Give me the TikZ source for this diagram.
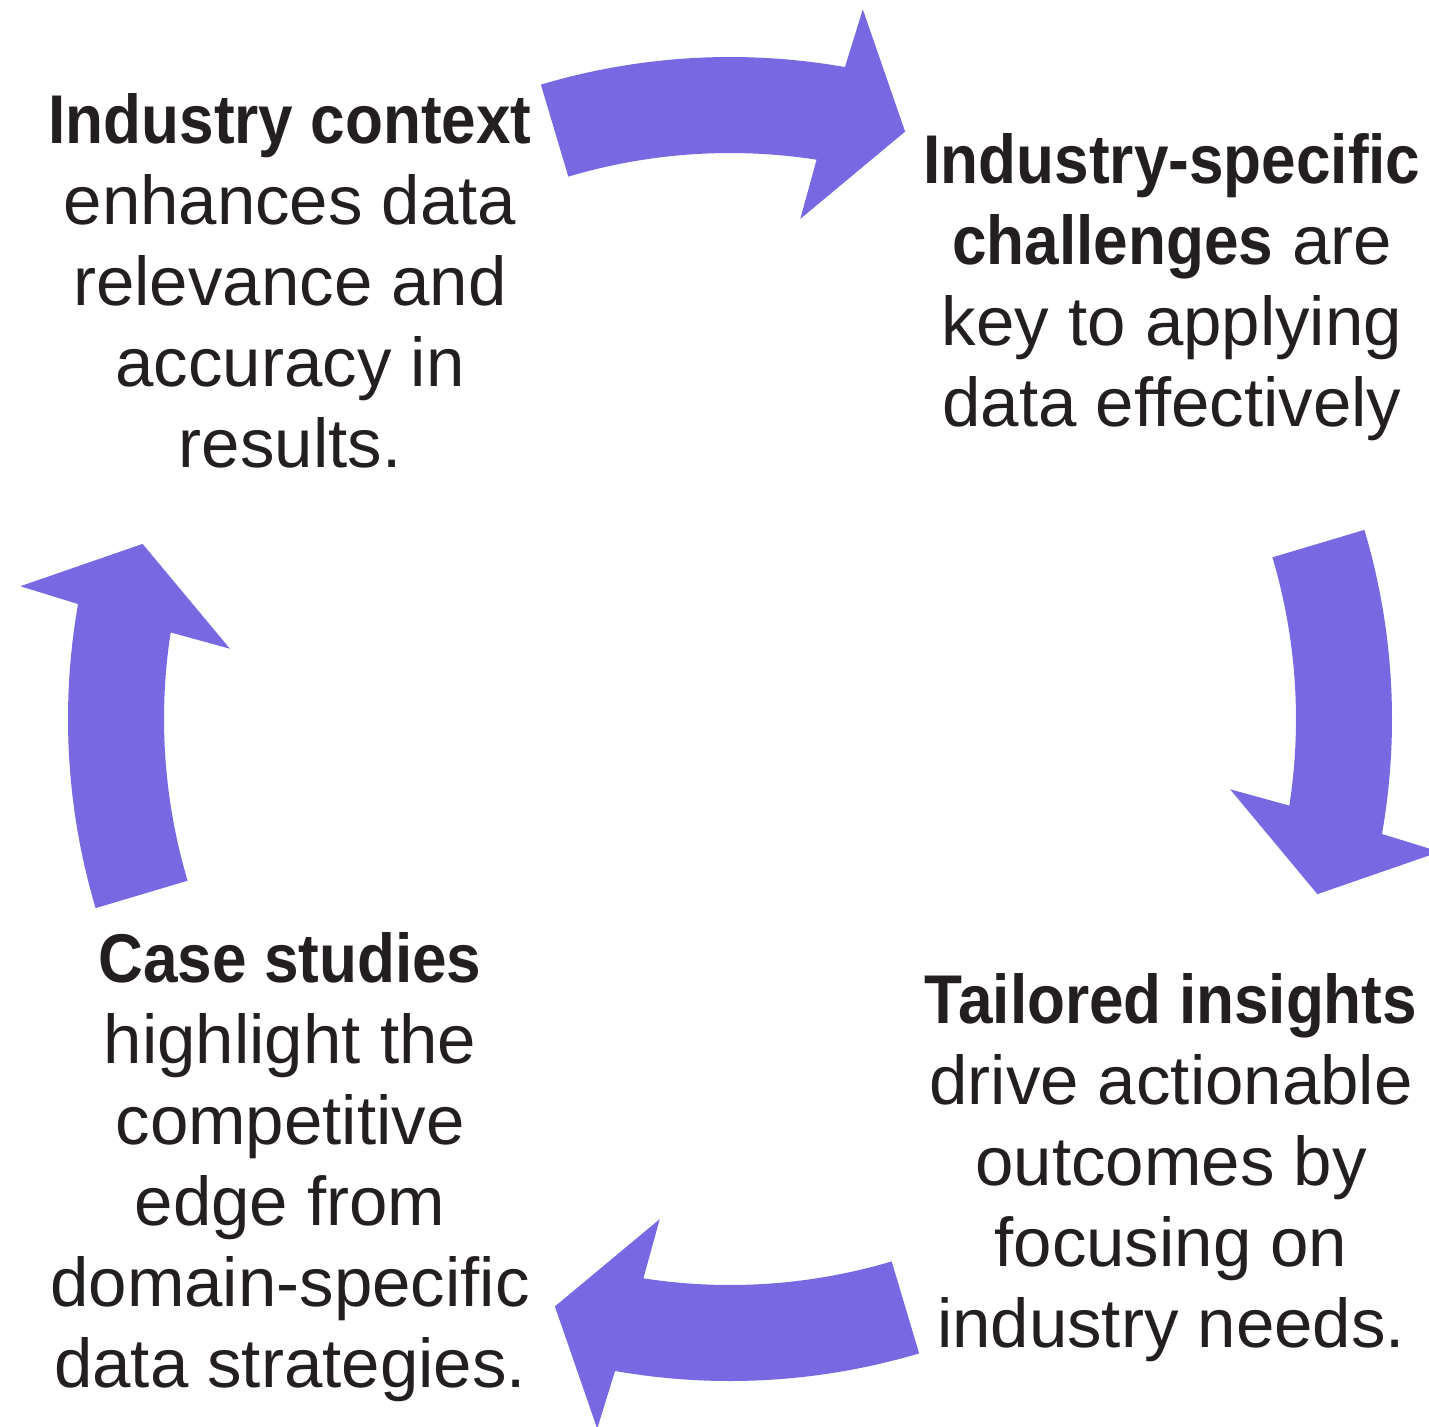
\documentclass[tikz,border=0pt]{standalone}
\usepackage{fontspec}
\setmainfont{Liberation Sans}[BoldFeatures={FakeStretch=0.9}]
\usepackage{tikz}
\usetikzlibrary{calc}
\definecolor{arrowpurple}{RGB}{120,104,226}
\definecolor{inkdark}{RGB}{35,31,32}
\tikzset{
    blurb/.style={align=center,inner sep=0pt,text=inkdark,font=\fontsize{34.5}{40.5}\selectfont},
    swoosh/.style={fill=arrowpurple,draw=none},
  }
\begin{document}
\begin{tikzpicture}[x=0.5pt,y=0.5pt]
                                    \useasboundingbox (0,0) rectangle (1429,-1426);
                                    \coordinate (O) at (730,-719);
                                    %curved arrows, clockwise round O
                                    \foreach \dir in {90,0,-90,180}{
                                      \fill[swoosh] ($(O)+(\dir+16.6:662)$) arc[start angle=\dir+16.6, end angle=\dir-10, radius=662]
                                        -- ($(O)+(\dir-10.6:722)$) -- ($(O)+(\dir-16.6:613)$) -- ($(O)+(\dir-8:505)$)
                                        -- ($(O)+(\dir-8.8:566)$) arc[start angle=\dir-8.8, end angle=\dir+16.6, radius=566] -- cycle;
                                    }
                                    \node[blurb,anchor=north] (context) at (290,-93) {\textbf{Industry context}\\enhances data\\relevance and\\accuracy in\\results.};
                                    \node[blurb,anchor=north] (challenges) at (1172,-133) {\textbf{Industry-specific}\\\textbf{challenges} are\\key to applying\\data effectively};
                                    \node[blurb,anchor=north] (insights) at (1171,-973) {\textbf{Tailored insights}\\drive actionable\\outcomes by\\focusing on\\industry needs.};
                                    \node[blurb,anchor=north] (cases) at (290,-932) {\textbf{Case studies}\\highlight the\\competitive\\edge from\\domain-specific\\data strategies.};
\end{tikzpicture}
\end{document}
